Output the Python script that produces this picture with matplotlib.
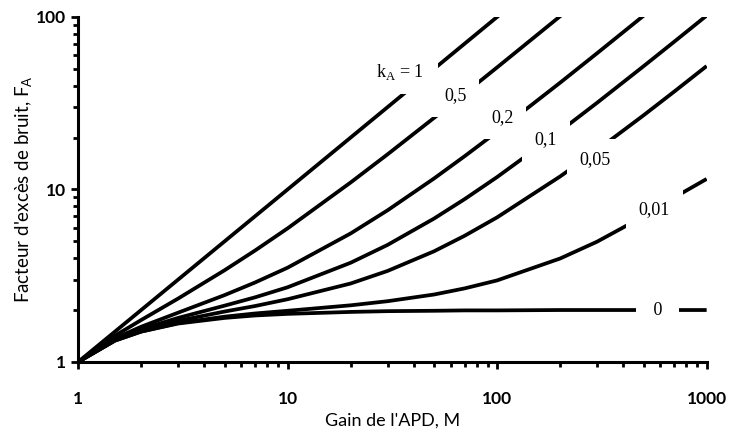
import numpy as np
import matplotlib
matplotlib.use("Agg")
import matplotlib.pyplot as plt
from matplotlib.ticker import LogLocator, NullFormatter, FixedLocator, FixedFormatter

# Gain values (x) sampled along the curves
gain = [1, 1.5, 2, 3, 5, 7, 10, 20, 30, 50, 70, 100, 200, 300, 500, 700, 1000]

# Excess noise factor for each k_A
F_k1    = [1, 1.5, 2, 3, 5, 7, 10, 20, 30, 50, 70, 100, 200, 300, 500, 700, 1000]
F_k05   = [1, 1.42, 1.75, 2.33, 3.4, 4.43, 5.95, 10.98, 15.98, 25.99, 35.99, 51, 101, 151, 251, 351, 501]
F_k02   = [1, 1.37, 1.6, 1.93, 2.44, 2.89, 3.52, 5.56, 7.57, 11.58, 15.59, 21.6, 41.6, 61.6, 101.6, 141.6, 201.6]
F_k01   = [1, 1.35, 1.55, 1.8, 2.12, 2.37, 2.71, 3.76, 4.77, 6.78, 8.79, 11.8, 21.8, 31.8, 51.8, 71.8, 101.8]
F_k005  = [1, 1.34, 1.53, 1.73, 1.96, 2.11, 2.31, 2.85, 3.37, 4.38, 5.39, 6.89, 11.9, 16.9, 26.9, 36.9, 51.9]
F_k001  = [1, 1.33, 1.5, 1.68, 1.83, 1.91, 1.98, 2.13, 2.25, 2.46, 2.67, 2.97, 3.98, 4.98, 6.98, 8.98, 11.5]
F_k0    = [1, 1.33, 1.5, 1.67, 1.8, 1.86, 1.9, 1.95, 1.97, 1.98, 1.99, 1.99, 2.0, 2.0, 2.0, 2.0, 2.0]

series = [F_k1, F_k05, F_k02, F_k01, F_k005, F_k001, F_k0]
labels = ["k$_\\mathregular{A}$ = 1 ", "0,5", "0,2", "0,1", "0,05", "0,01", " 0 "]
label_pos = [(34.7, 48), (63, 34.8), (106, 26.0), (171, 19.4), (292, 14.8), (564, 7.6), (583, 2.0)]

xticks = [1, 10, 100, 1000]
yticks = [1, 10, 100]

fig = plt.figure(figsize=(7.30, 4.34), dpi=100)
ax = fig.add_axes([0.107, 0.166, 0.861, 0.795])

for F in series:
    ax.plot(gain, F, color="black", lw=2.7, solid_capstyle="butt", zorder=2)

for lab, (mx, fy) in zip(labels, label_pos):
    ax.text(mx, fy, lab, family="Liberation Serif", fontsize=13, ha="center", va="center",
            zorder=3, bbox=dict(facecolor="white", edgecolor="none", pad=9))

ax.set_xscale("log")
ax.set_yscale("log")
ax.set_xlim(1, 1000)
ax.set_ylim(1, 100)

for s in ["top", "right"]:
    ax.spines[s].set_visible(False)
for s in ["left", "bottom"]:
    ax.spines[s].set_linewidth(2.2)

ax.xaxis.set_major_locator(FixedLocator(xticks))
ax.xaxis.set_major_formatter(FixedFormatter([str(v) for v in xticks]))
ax.yaxis.set_major_locator(FixedLocator(yticks))
ax.yaxis.set_major_formatter(FixedFormatter([str(v) for v in yticks]))
ax.xaxis.set_minor_locator(LogLocator(base=10, subs=np.arange(2, 10)))
ax.yaxis.set_minor_locator(LogLocator(base=10, subs=np.arange(2, 10)))
ax.xaxis.set_minor_formatter(NullFormatter())
ax.yaxis.set_minor_formatter(NullFormatter())

ax.tick_params(axis="both", which="major", direction="out", length=5, width=2)
ax.tick_params(axis="both", which="minor", direction="out", length=3.5, width=2)
ax.tick_params(axis="x", which="major", pad=16)
ax.tick_params(axis="y", which="major", pad=3.5)
for t in ax.get_xticklabels() + ax.get_yticklabels():
    t.set_fontfamily("Lato")
    t.set_fontweight("bold")
    t.set_fontsize(12.5)

ax.set_xlabel("Gain de l'APD, M", family="Lato", fontsize=13, labelpad=4)
ax.set_ylabel("Facteur d'excès de bruit, F$_\\mathregular{A}$", family="Lato", fontsize=13.5, labelpad=1)

fig.savefig("out.png", dpi=100)
